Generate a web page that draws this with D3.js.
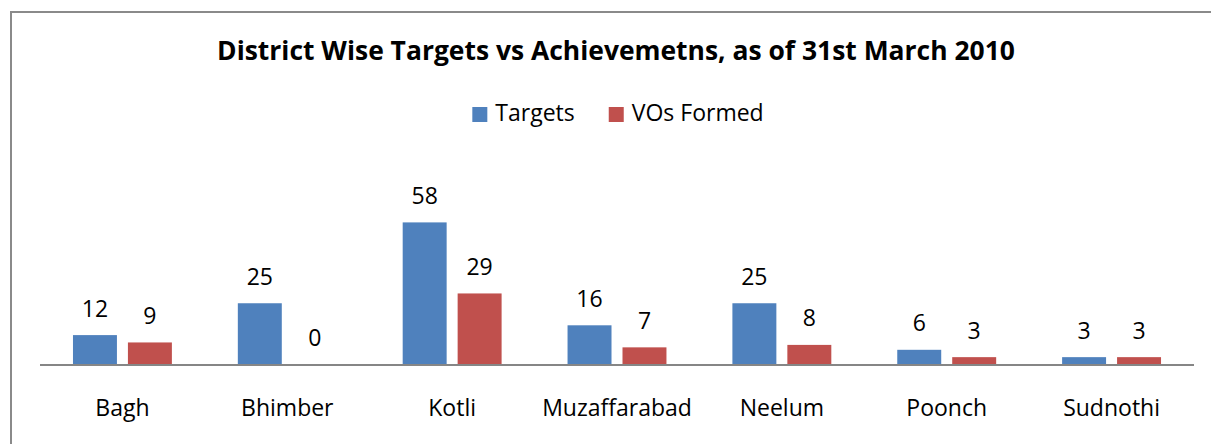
<!DOCTYPE html>
<html>
<head>
<meta charset="utf-8">
<script src="https://cdn.jsdelivr.net/npm/d3@7"></script>
<style>
    body { margin: 0; background: #fff; overflow: hidden; }
    svg { display: block; }
    svg text { font-family: "Open Sans", "Noto Sans", sans-serif; fill: #000; }
</style>
</head>
<body>
<div id="chart"></div>
<script>
// chart data
let districts = ["Bagh", "Bhimber", "Kotli", "Muzaffarabad", "Neelum", "Poonch", "Sudnothi"];
let targets = [12, 25, 58, 16, 25, 6, 3];
let vosFormed = [9, 0, 29, 7, 8, 3, 3];
let seriesNames = ["Targets", "VOs Formed"];
let seriesColors = ["#4F81BD", "#C0504D"];
let titleText = "District Wise Targets vs Achievemetns, as of 31st March 2010";

let width = 1211, height = 444;
let labelSize = "23px";

let svg = d3.select("#chart").append("svg")
    .attr("width", width)
    .attr("height", height);

// outer chart border (runs off the right and bottom edge)
svg.append("rect")
    .attr("x", 11)
    .attr("y", 12)
    .attr("width", 1300)
    .attr("height", 600)
    .style("fill", "none")
    .style("stroke", "#8a8a8a")
    .style("stroke-width", 2);

// title, fitted to the reference width
let title = svg.append("text")
    .attr("x", 616)
    .attr("y", 60)
    .attr("text-anchor", "middle")
    .style("font-weight", "bold")
    .style("font-size", "22px")
    .text(titleText);
let tw = title.node().getComputedTextLength();
title.style("font-size", (22 * 798 / tw) + "px");

// legend
let legend = svg.append("g");
let lx = 0;
seriesNames.forEach(function(name, i) {
    let item = legend.append("g").attr("transform", "translate(" + lx + ",0)");
    item.append("rect")
        .attr("x", 0)
        .attr("y", 107)
        .attr("width", 15)
        .attr("height", 15)
        .style("fill", seriesColors[i]);
    let t = item.append("text")
        .attr("x", 23)
        .attr("y", 121)
        .style("font-size", labelSize)
        .text(name);
    lx += 23 + t.node().getComputedTextLength() + 34;
});
let legendW = lx - 34;
legend.attr("transform", "translate(" + (618 - legendW / 2) + ",0)");

// scales
let x0 = d3.scaleBand()
    .domain(districts)
    .range([40, 1194])
    .paddingInner(0)
    .paddingOuter(0);

let x1 = d3.scaleBand()
    .domain(seriesNames)
    .range([0, x0.bandwidth()])
    .paddingInner(0.2)
    .paddingOuter(0.6);

let y = d3.scaleLinear()
    .domain([0, 70])
    .range([364.5, 193]);

let rows = districts.map(function(d, i) {
    return {
        district: d,
        values: [
            {series: seriesNames[0], value: targets[i], color: seriesColors[0]},
            {series: seriesNames[1], value: vosFormed[i], color: seriesColors[1]}
        ]
    };
});

let groups = svg.selectAll("g.district")
    .data(rows)
    .enter()
    .append("g")
    .attr("class", "district")
    .attr("transform", d => "translate(" + x0(d.district) + ",0)");

groups.selectAll("rect.bar")
    .data(d => d.values)
    .enter()
    .append("rect")
    .attr("class", "bar")
    .attr("x", d => x1(d.series))
    .attr("width", x1.bandwidth())
    .attr("y", d => y(d.value))
    .attr("height", d => y(0) - y(d.value))
    .style("fill", d => d.color);

groups.selectAll("text.value")
    .data(d => d.values)
    .enter()
    .append("text")
    .attr("class", "value")
    .attr("x", d => x1(d.series) + x1.bandwidth() / 2)
    .attr("y", d => y(d.value) - 18.5)
    .attr("text-anchor", "middle")
    .style("font-size", labelSize)
    .text(d => d.value);

// category axis
let xAxis = svg.append("g")
    .attr("transform", "translate(0," + (y(0) + 0.5) + ")")
    .call(d3.axisBottom(x0).tickSize(0).tickPadding(0));
xAxis.select(".domain")
    .attr("d", "M40,0H1194")
    .style("stroke", "#868686")
    .style("stroke-width", 2);
xAxis.selectAll(".tick text")
    .attr("dy", null)
    .attr("y", 416 - y(0) - 0.5)
    .style("font-size", labelSize)
    .style("font-family", "\"Open Sans\", \"Noto Sans\", sans-serif")
    .style("fill", "#000");
</script>
</body>
</html>
